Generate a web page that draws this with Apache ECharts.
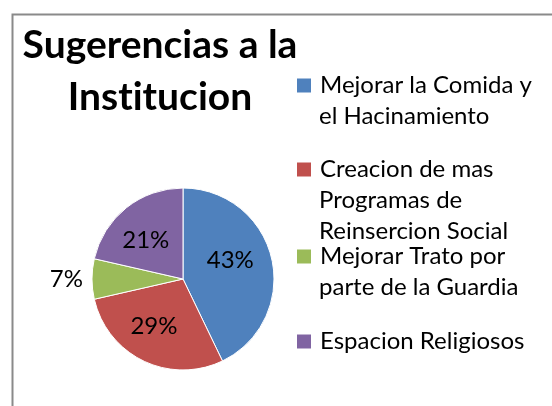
<!DOCTYPE html>
<html>
<head>
<meta charset="utf-8">
<script src="https://cdn.jsdelivr.net/npm/echarts@6/dist/echarts.min.js"></script>
<style>
    html, body { margin: 0; padding: 0; background: #fff; }
    #chart { width: 552px; height: 406px; }
</style>
</head>
<body>
<div id="chart"></div>
<script>
// data (percentages come from counts 6/4/1/3 of 14)
const categories = [
    "Mejorar la Comida y el Hacinamiento",
    "Creacion de mas Programas de Reinsercion Social",
    "Mejorar Trato por parte de la Guardia",
    "Espacion Religiosos"
];
const counts = [6, 4, 1, 3];
const legendLines = [
    ["Mejorar la Comida y", "el Hacinamiento"],
    ["Creacion de mas", "Programas de", "Reinsercion Social"],
    ["Mejorar Trato por", "parte de la Guardia"],
    ["Espacion Religiosos"]
];
const colors = ["#4F81BD", "#C0504D", "#9BBB59", "#8064A2"];

const FONT = "Lato";
const legendTops = [70, 154, 241, 326];
// nudge inside labels to where Excel put them
const labelOffsets = [[0, -8], [-8, 4], null, [-7, -1]];

const chart = echarts.init(document.getElementById("chart"));

const rich = {
    g: { width: 9 },
    p: { width: 22 }
};
colors.forEach((c, i) => {
    rich["m" + i] = { width: 14, height: 14, backgroundColor: c };
});

function legendText(i) {
    return legendLines[i]
        .map((line, j) => (j === 0 ? "{m" + i + "|}{g|}" : "{p|}") + line)
        .join("\n");
}

chart.setOption({
    animation: false,
    color: colors,
    title: {
        // zero-width non-joiner keeps Lato from drawing its "ti" ligature
        text: "Sugerencias a la\nInst\u200Citucion",
        left: 155,
        top: 14,
        textAlign: "center",
        textStyle: {
            fontFamily: FONT,
            fontSize: 39,
            fontWeight: "bold",
            color: "#000",
            lineHeight: 52
        }
    },
    legend: categories.map((name, i) => ({
        data: [name],
        orient: "vertical",
        left: 291,
        top: legendTops[i],
        padding: 0,
        itemWidth: 0,
        itemHeight: 0,
        formatter: () => legendText(i),
        textStyle: {
            fontFamily: FONT,
            fontSize: 24,
            color: "#000",
            lineHeight: 31,
            rich: rich
        }
    })),
    graphic: [
        {
            type: "rect",
            left: 10,
            top: 12,
            shape: { width: 600, height: 500 },
            style: { fill: "none", stroke: "#8a8a8a", lineWidth: 2 },
            silent: true
        }
    ],
    series: [
        {
            type: "pie",
            center: [183, 279],
            radius: 91,
            startAngle: 90,
            clockwise: true,
            avoidLabelOverlap: false,
            itemStyle: { borderColor: "#fff", borderWidth: 1 },
            label: {
                position: "inside",
                formatter: p => Math.round(p.percent) + "%",
                fontFamily: FONT,
                fontSize: 24,
                color: "#000"
            },
            labelLine: { show: false },
            data: categories.map((name, i) => {
                const item = { name: name, value: counts[i] };
                if (labelOffsets[i]) {
                    item.label = { offset: labelOffsets[i] };
                } else {
                    item.label = { position: "outside", distanceToLabelLine: 5 };
                    item.labelLine = { show: false, length: 4, length2: 0 };
                }
                return item;
            })
        }
    ]
});
</script>
</body>
</html>
